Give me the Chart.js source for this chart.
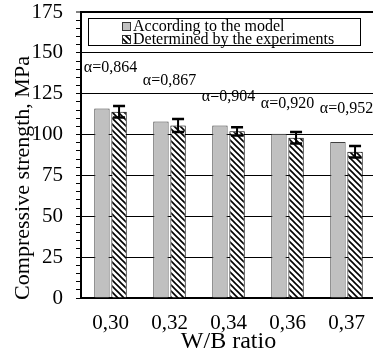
<!DOCTYPE html>
<html lang="en">
<head>
<meta charset="UTF-8">
<title>Compressive strength</title>
<script src="https://cdn.jsdelivr.net/npm/chart.js@4.4.9/dist/chart.umd.min.js"></script>
<style>
    html, body { margin: 0; padding: 0; background: #fff; overflow: hidden; }
    .grafico { width: 380px; height: 351px; }
</style>
</head>
<body>
<div class="grafico">
    <canvas id="graficoResistencia" width="380" height="351"></canvas>
</div>
<script>
    // W/B ratios
    var razoes = ['0,30', '0,32', '0,34', '0,36', '0,37'];
    // strength predicted by the model, MPa
    var modelo = [116, 108, 105.5, 100.5, 95.5];
    // strength from experiments, MPa
    var experimento = [114, 105.5, 102, 98, 89.5];
    // experiment scatter (+/-), MPa
    var erroExp = [3.5, 4, 2.5, 3.5, 3.5];
    // alpha coefficient for each ratio
    var alfas = ['α=0,864', 'α=0,867', 'α=0,904', 'α=0,920', 'α=0,952'];
    // height (MPa) at which each alpha is written
    var alturaAlfa = [141, 133, 123, 119, 116];

    var fonte = 'Liberation Serif';
    var tituloY = 'Compressive strength, MPa';

    // diagonal hatching for the experiment bars
    function criarHachura() {
        var c = document.createElement('canvas');
        c.width = 6; c.height = 6;
        var g = c.getContext('2d');
        g.fillStyle = '#fff';
        g.fillRect(0, 0, 6, 6);
        g.strokeStyle = '#000';
        g.lineWidth = 1.6;
        g.beginPath();
        g.moveTo(-1, -1); g.lineTo(7, 7);
        g.moveTo(-4, 2); g.lineTo(2, 8);
        g.moveTo(2, -4); g.lineTo(8, 2);
        g.stroke();
        return document.createElement('canvas').getContext('2d').createPattern(c, 'repeat');
    }
    var hachura = criarHachura();

    // error bars on the experiment series
    var barrasErro = {
        id: 'barrasErro',
        afterDatasetsDraw: function (chart) {
            var ctx = chart.ctx;
            var y = chart.scales.y;
            var meta = chart.getDatasetMeta(1);
            ctx.save();
            ctx.strokeStyle = '#000';
            for (var i = 0; i < meta.data.length; i++) {
                var x = meta.data[i].x;
                var topo = y.getPixelForValue(experimento[i] + erroExp[i]);
                var base = y.getPixelForValue(experimento[i] - erroExp[i]);
                ctx.lineWidth = 2;
                ctx.beginPath();
                ctx.moveTo(x, topo); ctx.lineTo(x, base);
                ctx.stroke();
                ctx.lineWidth = 2.5;
                ctx.beginPath();
                ctx.moveTo(x - 6, topo); ctx.lineTo(x + 6, topo);
                ctx.moveTo(x - 6, base); ctx.lineTo(x + 6, base);
                ctx.stroke();
            }
            ctx.restore();
        }
    };

    // alpha values written above each group + rotated y title
    var rotulosAlfa = {
        id: 'rotulosAlfa',
        afterDatasetsDraw: function (chart) {
            var ctx = chart.ctx;
            var a = chart.chartArea;
            ctx.save();
            ctx.fillStyle = '#000';
            ctx.font = '16px "' + fonte + '"';
            ctx.textAlign = 'center';
            ctx.textBaseline = 'middle';
            for (var i = 0; i < alfas.length; i++) {
                var x = chart.scales.x.getPixelForValue(i);
                var yy = chart.scales.y.getPixelForValue(alturaAlfa[i]);
                ctx.fillText(alfas[i], x, yy);
            }
            ctx.translate(23, (a.top + a.bottom) / 2 + 23);
            ctx.rotate(-Math.PI / 2);
            ctx.font = '22px "' + fonte + '"';
            ctx.fillText(tituloY, 0, 0);
            ctx.restore();
        }
    };

    // boxed legend inside the plot
    var legendaCaixa = {
        id: 'legendaCaixa',
        afterDraw: function (chart) {
            var ctx = chart.ctx;
            var a = chart.chartArea;
            var esq = a.left + 7, topo = a.top + 6, dir = a.right - 16, alt = 27;
            ctx.save();
            ctx.fillStyle = '#fff';
            ctx.fillRect(esq, topo, dir - esq, alt);
            ctx.strokeStyle = '#000';
            ctx.lineWidth = 1;
            ctx.strokeRect(esq + 0.5, topo + 0.5, dir - esq, alt);
            ctx.font = '16px "' + fonte + '"';
            ctx.textBaseline = 'middle';
            var ds = chart.data.datasets;
            for (var i = 0; i < ds.length; i++) {
                var yy = topo + 8 + i * 13;
                ctx.fillStyle = ds[i].backgroundColor;
                ctx.fillRect(esq + 34, yy - 4, 9, 9);
                ctx.strokeStyle = '#333';
                ctx.strokeRect(esq + 34.5, yy - 3.5, 8, 8);
                ctx.fillStyle = '#000';
                ctx.fillText(ds[i].label, esq + 45, yy + 1);
            }
            ctx.restore();
        }
    };

    var config = {
        type: 'bar',
        data: {
            labels: razoes,
            datasets: [{
                label: 'According to the model',
                data: modelo,
                backgroundColor: '#c0c0c0',
                borderColor: '#404040',
                borderWidth: 1,
                barPercentage: 0.9,
                categoryPercentage: 0.58
            }, {
                label: 'Determined by the experiments',
                data: experimento,
                backgroundColor: hachura,
                borderColor: '#000',
                borderWidth: 1,
                barPercentage: 0.9,
                categoryPercentage: 0.58
            }]
        },
        options: {
            responsive: false,
            animation: false,
            layout: { padding: { top: 12, right: 4, left: 0, bottom: 0 } },
            plugins: {
                legend: { display: false },
                tooltip: { enabled: false }
            },
            scales: {
                x: {
                    grid: { display: false },
                    border: { color: '#000', width: 2 },
                    ticks: { color: '#000', font: { family: fonte, size: 21 }, padding: 5 },
                    title: {
                        display: true,
                        text: 'W/B ratio',
                        color: '#000',
                        font: { family: fonte, size: 24 },
                        padding: { top: 0, bottom: -5 }
                    },
                    afterFit: function (scale) {
                        scale.height = 53;
                        scale.paddingLeft = 0;
                        scale.paddingRight = 0;
                    }
                },
                y: {
                    min: 0,
                    max: 175,
                    border: { color: '#000', width: 2 },
                    grid: {
                        color: function (c) { return c.tick.value % 25 === 0 ? '#000' : 'rgba(0,0,0,0)'; },
                        lineWidth: function (c) { return c.tick.value === 175 ? 2 : 1; },
                        tickColor: '#000',
                        tickLength: 5,
                        tickWidth: 1
                    },
                    ticks: {
                        stepSize: 5,
                        autoSkip: false,
                        color: '#000',
                        padding: 13,
                        font: { family: fonte, size: 21 },
                        callback: function (v) { return v % 25 === 0 ? v : ''; }
                    },
                    afterFit: function (scale) {
                        scale.width = 81;
                        scale.paddingTop = 0;
                        scale.paddingBottom = 0;
                    }
                }
            }
        },
        plugins: [barrasErro, rotulosAlfa, legendaCaixa]
    };

    new Chart(document.getElementById('graficoResistencia'), config);
</script>
</body>
</html>
